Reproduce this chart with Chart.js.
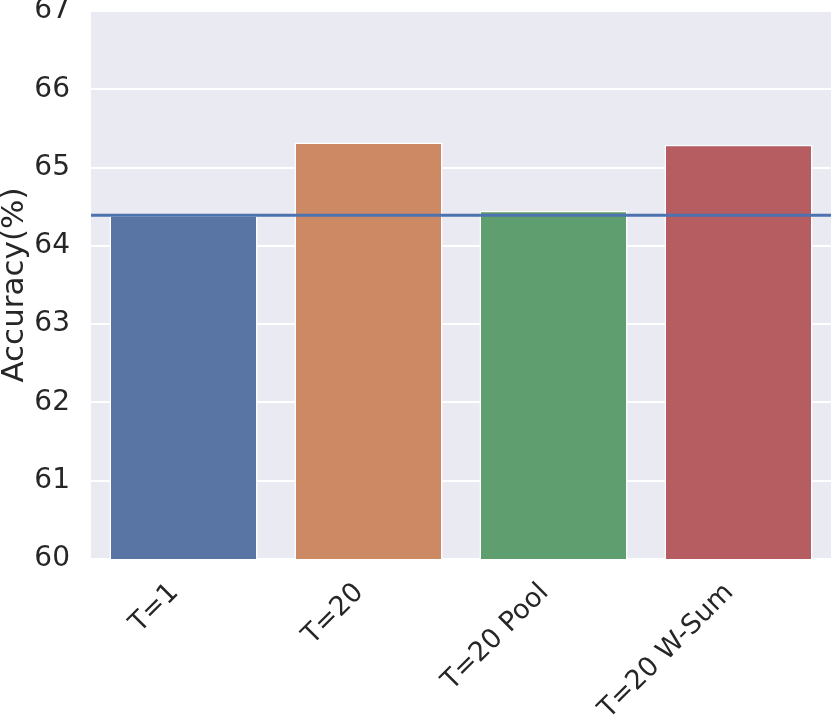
<!DOCTYPE html>
<html>
<head>
<meta charset="utf-8">
<script src="https://cdn.jsdelivr.net/npm/chart.js@4"></script>
<style>
  html, body { margin: 0; padding: 0; background: #fff; }
  #wrap { width: 831px; height: 727px; }
</style>
</head>
<body>
<div id="wrap"><canvas id="chart" width="831" height="727"></canvas></div>
<script>
const labels = ['T=1', 'T=20', 'T=20 Pool', 'T=20 W-Sum'];
const accuracy = [64.39, 65.32, 64.45, 65.29];
const barColors = ['#5975A4', '#CC8963', '#5F9E6E', '#B55D60'];
const baseline = 64.39;
const yTicks = [60, 61, 62, 63, 64, 65, 66, 67];

// grey plot background like seaborn darkgrid
const bgPlugin = {
  id: 'bg',
  beforeDraw(chart) {
    const a = chart.chartArea;
    const ctx = chart.ctx;
    ctx.save();
    ctx.fillStyle = '#EAEAF2';
    ctx.fillRect(a.left, a.top, a.right - a.left, a.bottom - a.top);
    ctx.restore();
  }
};

// reference line at the T=1 accuracy
const refLine = {
  id: 'refLine',
  afterDatasetsDraw(chart) {
    const a = chart.chartArea;
    const y = chart.scales.y.getPixelForValue(baseline);
    const ctx = chart.ctx;
    ctx.save();
    ctx.strokeStyle = '#4C72B0';
    ctx.lineWidth = 3;
    ctx.beginPath();
    ctx.moveTo(a.left, y);
    ctx.lineTo(a.right, y);
    ctx.stroke();
    ctx.restore();
  }
};

Chart.defaults.font.family = '"DejaVu Sans", sans-serif';
Chart.defaults.color = '#262626';

new Chart(document.getElementById('chart'), {
  type: 'bar',
  data: {
    labels: labels,
    datasets: [{
      data: accuracy,
      backgroundColor: barColors,
      borderColor: '#ffffff',
      borderWidth: 1.5,
      borderSkipped: false,
      categoryPercentage: 1.0,
      barPercentage: 0.8
    }]
  },
  options: {
    responsive: false,
    animation: false,
    layout: { padding: { top: 11, right: 0, left: 0, bottom: 0 } },
    plugins: { legend: { display: false }, tooltip: { enabled: false } },
    scales: {
      x: {
        grid: { display: false },
        border: { display: false },
        ticks: {
          font: { size: 27 },
          maxRotation: 45,
          minRotation: 45,
          padding: 10,
          labelOffset: -9
        },
        afterFit(scale) {
          scale.height = 168;
          scale.paddingLeft = 0;
          scale.paddingRight = 0;
        }
      },
      y: {
        min: 60,
        max: 67,
        afterBuildTicks(scale) { scale.ticks = yTicks.map(v => ({ value: v })); },
        grid: { color: '#ffffff', lineWidth: 2, drawTicks: false },
        border: { display: false },
        ticks: { font: { size: 28 }, padding: 21 },
        title: {
          display: true,
          text: 'Accuracy(%)',
          font: { size: 31 },
          padding: { top: -4, bottom: 0 }
        },
        afterFit(scale) {
          scale.width = 91;
          scale.paddingTop = 0;
          scale.paddingBottom = 0;
        }
      }
    }
  },
  plugins: [bgPlugin, refLine]
});
</script>
</body>
</html>
